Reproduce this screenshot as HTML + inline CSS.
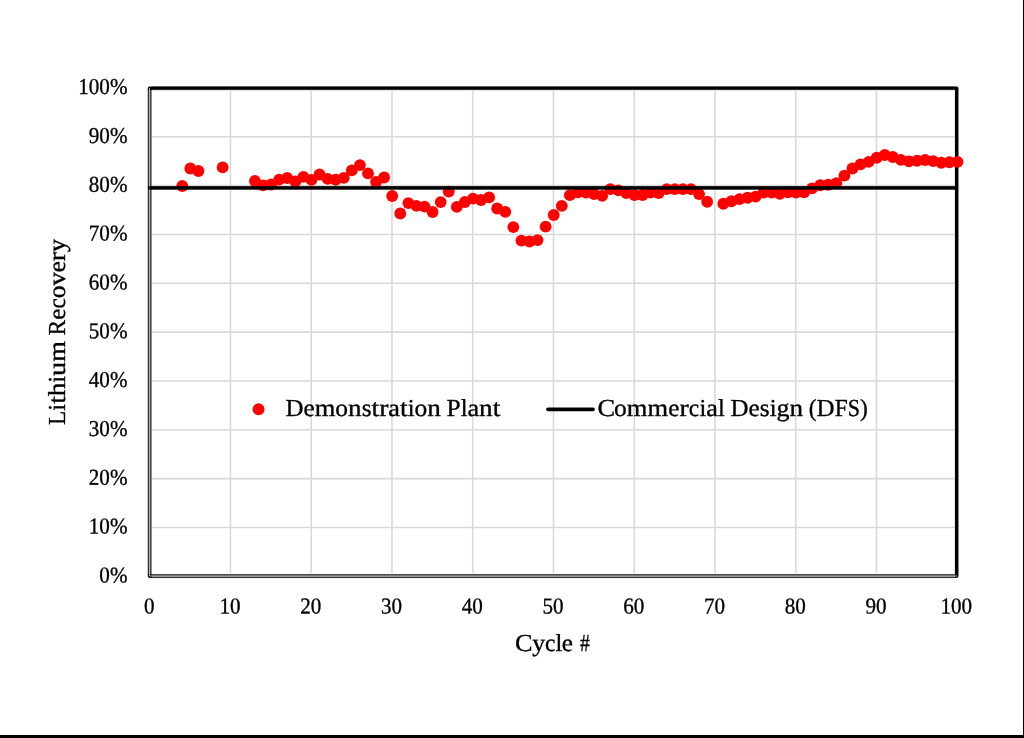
<!DOCTYPE html>
<html><head><meta charset="utf-8"><title>Lithium Recovery</title>
<style>
html,body{margin:0;padding:0;background:#fff;}
body{width:1024px;height:738px;overflow:hidden;position:relative;font-family:"Liberation Serif",serif;}
svg{position:absolute;left:0;top:0;display:block;}
text{font-family:"Liberation Serif",serif;fill:#000;}
.t{opacity:0.999;}
</style></head><body>
<svg width="1024" height="738" viewBox="0 0 1024 738">
<rect x="0" y="0" width="1024" height="738" fill="#fff"/>
<rect x="1023" y="0" width="1" height="738" fill="#000"/>
<rect x="0" y="735" width="1024" height="3" fill="#000"/>

<g stroke="#d9d9d9" stroke-width="1.6" fill="none">
<line x1="230.47" y1="88" x2="230.47" y2="576"/>
<line x1="311.22" y1="88" x2="311.22" y2="576"/>
<line x1="391.97" y1="88" x2="391.97" y2="576"/>
<line x1="472.72" y1="88" x2="472.72" y2="576"/>
<line x1="553.47" y1="88" x2="553.47" y2="576"/>
<line x1="634.22" y1="88" x2="634.22" y2="576"/>
<line x1="714.97" y1="88" x2="714.97" y2="576"/>
<line x1="795.72" y1="88" x2="795.72" y2="576"/>
<line x1="876.47" y1="88" x2="876.47" y2="576"/>
<line x1="150" y1="527.48" x2="957" y2="527.48"/>
<line x1="150" y1="478.64" x2="957" y2="478.64"/>
<line x1="150" y1="429.80" x2="957" y2="429.80"/>
<line x1="150" y1="380.96" x2="957" y2="380.96"/>
<line x1="150" y1="332.12" x2="957" y2="332.12"/>
<line x1="150" y1="283.28" x2="957" y2="283.28"/>
<line x1="150" y1="234.44" x2="957" y2="234.44"/>
<line x1="150" y1="185.60" x2="957" y2="185.60"/>
<line x1="150" y1="136.76" x2="957" y2="136.76"/>
</g>
<path fill="#000" fill-rule="evenodd" d="M149.6 86.39 H956.68 A1.8 1.8 0 0 1 958.48 88.19 V576.1 A1.8 1.8 0 0 1 956.68 577.9 H149.6 A1.8 1.8 0 0 1 147.8 576.1 V88.19 A1.8 1.8 0 0 1 149.6 86.39 Z M151.45 89.97 V574.2 H954.92 V89.97 Z"/>
<path d="M149.5 88.4 L149.5 576 L956.6 576" fill="none" stroke="#bfbfbf" stroke-width="1" stroke-linejoin="round" stroke-linecap="round"/>
<rect x="147" y="90" width="1" height="484" fill="rgb(200,200,200)"/>
<rect x="148" y="90" width="1" height="484" fill="rgb(48,48,48)"/>
<rect x="149" y="90" width="1" height="484" fill="rgb(181,181,181)"/>
<rect x="150" y="90" width="1" height="484" fill="rgb(72,72,72)"/>
<rect x="151" y="90" width="1" height="484" fill="rgb(140,140,140)"/>
<rect x="152" y="573" width="803" height="1" fill="rgb(250,250,250)"/>
<rect x="152" y="574" width="803" height="1" fill="rgb(77,77,77)"/>
<rect x="152" y="575" width="803" height="1" fill="rgb(120,120,120)"/>
<rect x="152" y="576" width="803" height="1" fill="rgb(156,156,156)"/>
<rect x="152" y="577" width="803" height="1" fill="rgb(51,51,51)"/>
<rect x="152" y="578" width="803" height="1" fill="rgb(240,240,240)"/>
<rect x="152" y="86" width="803" height="1" fill="rgb(96,96,96)"/>
<rect x="152" y="87" width="803" height="1" fill="rgb(0,0,0)"/>
<rect x="152" y="88" width="803" height="1" fill="rgb(0,0,0)"/>
<rect x="152" y="89" width="803" height="1" fill="rgb(48,48,48)"/>
<rect x="152" y="90" width="803" height="1" fill="rgb(225,225,225)"/>
<g fill="#ff0000">
<circle cx="182.27" cy="186.00" r="5.9"/>
<circle cx="190.34" cy="168.50" r="5.9"/>
<circle cx="198.42" cy="171.00" r="5.9"/>
<circle cx="222.64" cy="167.40" r="5.9"/>
<circle cx="254.94" cy="181.00" r="5.9"/>
<circle cx="263.02" cy="185.30" r="5.9"/>
<circle cx="271.09" cy="184.50" r="5.9"/>
<circle cx="279.17" cy="179.60" r="5.9"/>
<circle cx="287.25" cy="178.00" r="5.9"/>
<circle cx="295.32" cy="181.50" r="5.9"/>
<circle cx="303.39" cy="176.90" r="5.9"/>
<circle cx="311.47" cy="179.90" r="5.9"/>
<circle cx="319.54" cy="174.50" r="5.9"/>
<circle cx="327.62" cy="178.90" r="5.9"/>
<circle cx="335.69" cy="179.75" r="5.9"/>
<circle cx="343.77" cy="177.90" r="5.9"/>
<circle cx="351.84" cy="170.40" r="5.9"/>
<circle cx="359.92" cy="165.10" r="5.9"/>
<circle cx="368.00" cy="173.40" r="5.9"/>
<circle cx="376.07" cy="182.00" r="5.9"/>
<circle cx="384.14" cy="177.50" r="5.9"/>
<circle cx="392.22" cy="196.00" r="5.9"/>
<circle cx="400.29" cy="213.50" r="5.9"/>
<circle cx="408.37" cy="203.10" r="5.9"/>
<circle cx="416.44" cy="205.90" r="5.9"/>
<circle cx="424.52" cy="206.60" r="5.9"/>
<circle cx="432.60" cy="212.00" r="5.9"/>
<circle cx="440.67" cy="202.10" r="5.9"/>
<circle cx="448.75" cy="191.60" r="5.9"/>
<circle cx="456.82" cy="206.90" r="5.9"/>
<circle cx="464.89" cy="202.00" r="5.9"/>
<circle cx="472.97" cy="198.60" r="5.9"/>
<circle cx="481.04" cy="200.00" r="5.9"/>
<circle cx="489.12" cy="197.40" r="5.9"/>
<circle cx="497.19" cy="208.50" r="5.9"/>
<circle cx="505.27" cy="211.90" r="5.9"/>
<circle cx="513.34" cy="227.10" r="5.9"/>
<circle cx="521.42" cy="240.60" r="5.9"/>
<circle cx="529.50" cy="241.50" r="5.9"/>
<circle cx="537.57" cy="240.10" r="5.9"/>
<circle cx="545.64" cy="226.60" r="5.9"/>
<circle cx="553.72" cy="215.00" r="5.9"/>
<circle cx="561.79" cy="205.80" r="5.9"/>
<circle cx="569.87" cy="195.20" r="5.9"/>
<circle cx="577.94" cy="192.30" r="5.9"/>
<circle cx="586.02" cy="192.70" r="5.9"/>
<circle cx="594.09" cy="194.00" r="5.9"/>
<circle cx="602.17" cy="195.90" r="5.9"/>
<circle cx="610.25" cy="189.10" r="5.9"/>
<circle cx="618.32" cy="190.40" r="5.9"/>
<circle cx="626.39" cy="193.10" r="5.9"/>
<circle cx="634.47" cy="195.00" r="5.9"/>
<circle cx="642.54" cy="195.00" r="5.9"/>
<circle cx="650.62" cy="192.50" r="5.9"/>
<circle cx="658.69" cy="193.10" r="5.9"/>
<circle cx="666.77" cy="189.10" r="5.9"/>
<circle cx="674.85" cy="189.10" r="5.9"/>
<circle cx="682.92" cy="189.10" r="5.9"/>
<circle cx="691.00" cy="189.10" r="5.9"/>
<circle cx="699.07" cy="194.10" r="5.9"/>
<circle cx="707.14" cy="201.75" r="5.9"/>
<circle cx="723.29" cy="203.75" r="5.9"/>
<circle cx="731.37" cy="201.25" r="5.9"/>
<circle cx="739.44" cy="199.10" r="5.9"/>
<circle cx="747.52" cy="197.75" r="5.9"/>
<circle cx="755.60" cy="196.60" r="5.9"/>
<circle cx="763.67" cy="192.50" r="5.9"/>
<circle cx="771.75" cy="192.50" r="5.9"/>
<circle cx="779.82" cy="193.75" r="5.9"/>
<circle cx="787.89" cy="192.25" r="5.9"/>
<circle cx="795.97" cy="192.60" r="5.9"/>
<circle cx="804.04" cy="192.25" r="5.9"/>
<circle cx="812.12" cy="188.40" r="5.9"/>
<circle cx="820.19" cy="185.25" r="5.9"/>
<circle cx="828.27" cy="184.75" r="5.9"/>
<circle cx="836.34" cy="183.10" r="5.9"/>
<circle cx="844.42" cy="175.60" r="5.9"/>
<circle cx="852.50" cy="168.50" r="5.9"/>
<circle cx="860.57" cy="164.40" r="5.9"/>
<circle cx="868.64" cy="161.80" r="5.9"/>
<circle cx="876.72" cy="157.75" r="5.9"/>
<circle cx="884.79" cy="155.00" r="5.9"/>
<circle cx="892.87" cy="157.00" r="5.9"/>
<circle cx="900.94" cy="159.90" r="5.9"/>
<circle cx="909.02" cy="161.40" r="5.9"/>
<circle cx="917.09" cy="160.75" r="5.9"/>
<circle cx="925.17" cy="160.00" r="5.9"/>
<circle cx="933.25" cy="161.10" r="5.9"/>
<circle cx="941.32" cy="162.75" r="5.9"/>
<circle cx="949.39" cy="162.25" r="5.9"/>
<circle cx="957.47" cy="161.90" r="5.9"/>
</g>
<path d="M149.7 186.03 A1.83 1.83 0 0 0 149.7 189.69 Z" fill="#000"/>
<rect x="149.7" y="186" width="807" height="1" fill="#000" fill-opacity="0.87"/>
<rect x="149.7" y="187" width="807" height="1" fill="#000" fill-opacity="1"/>
<rect x="149.7" y="188" width="807" height="1" fill="#000" fill-opacity="1"/>
<rect x="149.7" y="189" width="807" height="1" fill="#000" fill-opacity="0.69"/>
<g class="t">
<g font-size="22.7px" text-anchor="end" stroke="#000" stroke-width="0.35">
<text transform="translate(127.5 582.47) rotate(0.03) scale(0.93 1)">0%</text>
<text transform="translate(127.5 533.63) rotate(0.03) scale(0.93 1)">10%</text>
<text transform="translate(127.5 484.79) rotate(0.03) scale(0.93 1)">20%</text>
<text transform="translate(127.5 435.95) rotate(0.03) scale(0.93 1)">30%</text>
<text transform="translate(127.5 387.11) rotate(0.03) scale(0.93 1)">40%</text>
<text transform="translate(127.5 338.27) rotate(0.03) scale(0.93 1)">50%</text>
<text transform="translate(127.5 289.43) rotate(0.03) scale(0.93 1)">60%</text>
<text transform="translate(127.5 240.59) rotate(0.03) scale(0.93 1)">70%</text>
<text transform="translate(127.5 191.75) rotate(0.03) scale(0.93 1)">80%</text>
<text transform="translate(127.5 142.91) rotate(0.03) scale(0.93 1)">90%</text>
<text transform="translate(127.5 94.07) rotate(0.03) scale(0.93 1)">100%</text>
</g>
<g font-size="22.7px" text-anchor="middle" stroke="#000" stroke-width="0.35">
<text transform="translate(149.37 613.6) rotate(0.03) scale(0.93 1)">0</text>
<text transform="translate(230.12 613.6) rotate(0.03) scale(0.93 1)">10</text>
<text transform="translate(310.87 613.6) rotate(0.03) scale(0.93 1)">20</text>
<text transform="translate(391.62 613.6) rotate(0.03) scale(0.93 1)">30</text>
<text transform="translate(472.37 613.6) rotate(0.03) scale(0.93 1)">40</text>
<text transform="translate(553.12 613.6) rotate(0.03) scale(0.93 1)">50</text>
<text transform="translate(633.87 613.6) rotate(0.03) scale(0.93 1)">60</text>
<text transform="translate(714.62 613.6) rotate(0.03) scale(0.93 1)">70</text>
<text transform="translate(795.37 613.6) rotate(0.03) scale(0.93 1)">80</text>
<text transform="translate(876.12 613.6) rotate(0.03) scale(0.93 1)">90</text>
<text transform="translate(956.27 613.6) rotate(0.03) scale(0.93 1)">100</text>
</g>
<g font-size="24.4px" stroke="#000" stroke-width="0.35">
<text transform="translate(515.10 651.00) rotate(0.03) scale(1.0773 1)">C</text>
<text transform="translate(532.14 651.00) rotate(0.03) scale(1.0632 1)">y</text>
<text transform="translate(545.11 651.00) rotate(0.03) scale(0.9565 1)">c</text>
<text transform="translate(555.47 651.00) rotate(0.03) scale(1.0015 1)">l</text>
<text transform="translate(561.86 651.00) rotate(0.03) scale(1.0319 1)">e</text>
<text transform="translate(580.07 651.00) rotate(0.03) scale(0.8032 1)">#</text>
<text transform="translate(64.90 424.90) rotate(-89.97) scale(0.9564 1)">L</text>
<text transform="translate(64.90 410.65) rotate(-89.97) scale(1.0015 1)">i</text>
<text transform="translate(64.90 403.86) rotate(-89.97) scale(1.1219 1)">t</text>
<text transform="translate(64.90 396.25) rotate(-89.97) scale(1.1130 1)">h</text>
<text transform="translate(64.90 382.67) rotate(-89.97) scale(1.0015 1)">i</text>
<text transform="translate(64.90 375.88) rotate(-89.97) scale(1.1531 1)">u</text>
<text transform="translate(64.90 361.82) rotate(-89.97) scale(1.0854 1)">m</text>
<text transform="translate(64.90 335.38) rotate(-89.97) scale(0.9576 1)">R</text>
<text transform="translate(64.90 319.80) rotate(-89.97) scale(1.0319 1)">e</text>
<text transform="translate(64.90 308.62) rotate(-89.97) scale(0.9565 1)">c</text>
<text transform="translate(64.90 298.26) rotate(-89.97) scale(1.0441 1)">o</text>
<text transform="translate(64.90 285.53) rotate(-89.97) scale(1.0804 1)">v</text>
<text transform="translate(64.90 272.35) rotate(-89.97) scale(1.0319 1)">e</text>
<text transform="translate(64.90 261.17) rotate(-89.97) scale(1.1341 1)">r</text>
<text transform="translate(64.90 251.95) rotate(-89.97) scale(1.0632 1)">y</text>
<text transform="translate(285.50 416.00) rotate(0.03) scale(1.0248 1)">D</text>
<text transform="translate(303.56 416.00) rotate(0.03) scale(1.0319 1)">e</text>
<text transform="translate(314.73 416.00) rotate(0.03) scale(1.0854 1)">m</text>
<text transform="translate(335.33 416.00) rotate(0.03) scale(1.0441 1)">o</text>
<text transform="translate(348.07 416.00) rotate(0.03) scale(1.1130 1)">n</text>
<text transform="translate(361.65 416.00) rotate(0.03) scale(1.0417 1)">s</text>
<text transform="translate(371.54 416.00) rotate(0.03) scale(1.1219 1)">t</text>
<text transform="translate(379.15 416.00) rotate(0.03) scale(1.1341 1)">r</text>
<text transform="translate(388.36 416.00) rotate(0.03) scale(1.0771 1)">a</text>
<text transform="translate(400.03 416.00) rotate(0.03) scale(1.1219 1)">t</text>
<text transform="translate(407.63 416.00) rotate(0.03) scale(1.0015 1)">i</text>
<text transform="translate(414.42 416.00) rotate(0.03) scale(1.0441 1)">o</text>
<text transform="translate(427.16 416.00) rotate(0.03) scale(1.1130 1)">n</text>
<text transform="translate(446.57 416.00) rotate(0.03) scale(1.0384 1)">P</text>
<text transform="translate(460.66 416.00) rotate(0.03) scale(1.0015 1)">l</text>
<text transform="translate(467.45 416.00) rotate(0.03) scale(1.0771 1)">a</text>
<text transform="translate(479.12 416.00) rotate(0.03) scale(1.1130 1)">n</text>
<text transform="translate(492.69 416.00) rotate(0.03) scale(1.1219 1)">t</text>
<text transform="translate(597.40 416.00) rotate(0.03) scale(1.0773 1)">C</text>
<text transform="translate(614.04 416.00) rotate(0.03) scale(1.0441 1)">o</text>
<text transform="translate(626.78 416.00) rotate(0.03) scale(1.0854 1)">m</text>
<text transform="translate(647.38 416.00) rotate(0.03) scale(1.0854 1)">m</text>
<text transform="translate(668.28 416.00) rotate(0.03) scale(1.0319 1)">e</text>
<text transform="translate(679.45 416.00) rotate(0.03) scale(1.1341 1)">r</text>
<text transform="translate(688.67 416.00) rotate(0.03) scale(0.9565 1)">c</text>
<text transform="translate(699.48 416.00) rotate(0.03) scale(1.0015 1)">i</text>
<text transform="translate(706.27 416.00) rotate(0.03) scale(1.0771 1)">a</text>
<text transform="translate(717.93 416.00) rotate(0.03) scale(1.0015 1)">l</text>
<text transform="translate(730.55 416.00) rotate(0.03) scale(1.0248 1)">D</text>
<text transform="translate(748.61 416.00) rotate(0.03) scale(1.0319 1)">e</text>
<text transform="translate(759.79 416.00) rotate(0.03) scale(1.0417 1)">s</text>
<text transform="translate(769.68 416.00) rotate(0.03) scale(1.0015 1)">i</text>
<text transform="translate(776.47 416.00) rotate(0.03) scale(1.0632 1)">g</text>
<text transform="translate(789.44 416.00) rotate(0.03) scale(1.1130 1)">n</text>
<text transform="translate(808.85 416.00) rotate(0.03) scale(0.9561 1)">(</text>
<text transform="translate(816.62 416.00) rotate(0.03) scale(1.0248 1)">D</text>
<text transform="translate(834.68 416.00) rotate(0.03) scale(0.9559 1)">F</text>
<text transform="translate(847.65 416.00) rotate(0.03) scale(0.9026 1)">S</text>
<text transform="translate(859.90 416.00) rotate(0.03) scale(0.9561 1)">)</text>
</g>
<circle cx="258.55" cy="409.3" r="5.95" fill="#ff0000"/>
<line x1="548" y1="409.3" x2="593" y2="409.3" stroke="#000" stroke-width="3.7" stroke-linecap="round"/>
</g>
</svg></body></html>
